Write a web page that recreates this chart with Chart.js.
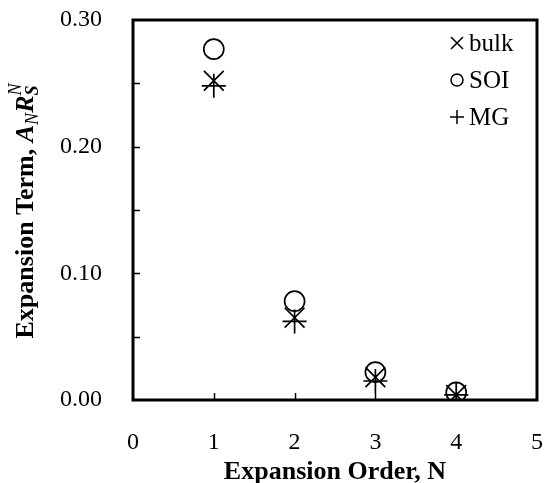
<!DOCTYPE html>
<html>
<head>
<meta charset="utf-8">
<script src="https://cdn.jsdelivr.net/npm/chart.js@4.4.0/dist/chart.umd.min.js"></script>
<style>
    html, body { margin: 0; padding: 0; background: #fff; }
</style>
</head>
<body>
<canvas id="chart" width="544" height="483"></canvas>
<script>
// expansion order N and the term values for each device
const orders = [1, 2, 3, 4];
const bulk = [0.252, 0.065, 0.018, 0.004];
const soi = [0.277, 0.078, 0.022, 0.006];
const mg = [0.248, 0.062, 0.015, 0.004];
const seriesNames = ['bulk', 'SOI', 'MG'];
const xTitle = 'Expansion Order, N';

const FONT = "'Liberation Serif', 'Times New Roman', serif";

function toPoints(vals) {
    return orders.map((n, i) => ({ x: n, y: vals[i] }));
}

// marker drawn by hand for the legend only
function drawMarker(ctx, style, x, y, r) {
    ctx.beginPath();
    if (style === 'circle') {
        ctx.arc(x, y, r, 0, Math.PI * 2);
    } else if (style === 'crossRot') {
        const d = r * Math.SQRT1_2;
        ctx.moveTo(x - d, y - d); ctx.lineTo(x + d, y + d);
        ctx.moveTo(x - d, y + d); ctx.lineTo(x + d, y - d);
    } else {
        ctx.moveTo(x - r, y); ctx.lineTo(x + r, y);
        ctx.moveTo(x, y - r); ctx.lineTo(x, y + r);
    }
    ctx.stroke();
}

// box around the plot + inward tick marks
const framePlugin = {
    id: 'frame',
    beforeDatasetsDraw(chart) {
        const { ctx, chartArea: a, scales } = chart;
        ctx.save();
        ctx.strokeStyle = '#000';
        ctx.lineWidth = 1.5;
        scales.x.ticks.forEach(t => {
            if (t.value <= 0 || t.value >= 5) return;
            const px = Math.round(scales.x.getPixelForValue(t.value)) + 0.5;
            ctx.beginPath(); ctx.moveTo(px, a.bottom); ctx.lineTo(px, a.bottom - 7); ctx.stroke();
        });
        scales.y.ticks.forEach(t => {
            if (t.value <= 0 || t.value >= 0.3 - 1e-9) return;
            const py = Math.round(scales.y.getPixelForValue(t.value)) + 0.5;
            ctx.beginPath(); ctx.moveTo(a.left, py); ctx.lineTo(a.left + 7, py); ctx.stroke();
        });
        ctx.lineWidth = 3;
        ctx.strokeRect(a.left, a.top, a.right - a.left, a.bottom - a.top);
        ctx.restore();
    }
};

// y title has italic symbols with sub/superscripts, so draw it in pieces
const yTitlePlugin = {
    id: 'yTitle',
    afterDraw(chart) {
        const ctx = chart.ctx;
        const pieces = [
            { t: 'Expansion Term, ', f: 'bold 26px ' + FONT, dy: 0 },
            { t: 'A', f: 'italic bold 26px ' + FONT, dy: 0 },
            { t: 'N', f: 'italic 18px ' + FONT, dy: 5 },
            { t: 'R', f: 'italic bold 26px ' + FONT, dy: 0 },
            { t: 'S', f: 'italic bold 18px ' + FONT, dy: 5, stack: true },
            { t: 'N', f: 'italic 18px ' + FONT, dy: -12 }
        ];
        ctx.save();
        let total = 0;
        let widths = pieces.map(p => { ctx.font = p.f; return ctx.measureText(p.t).width; });
        pieces.forEach((p, i) => {
            if (p.stack) total += Math.max(widths[i], widths[i + 1]);
            else if (!(i > 0 && pieces[i - 1].stack)) total += widths[i];
        });
        ctx.translate(33, 211);
        ctx.rotate(-Math.PI / 2);
        ctx.fillStyle = '#000';
        ctx.textBaseline = 'alphabetic';
        let x = -total / 2;
        pieces.forEach((p, i) => {
            ctx.font = p.f;
            ctx.fillText(p.t, x, p.dy);
            if (p.stack) return;
            if (i > 0 && pieces[i - 1].stack) x += Math.max(widths[i], widths[i - 1]);
            else x += widths[i];
        });
        ctx.restore();
    }
};

// legend in the top right corner, inside the plot
const legendPlugin = {
    id: 'cornerLegend',
    afterDraw(chart) {
        const { ctx, chartArea: a } = chart;
        const sizes = { crossRot: 8.5, circle: 6, cross: 7 };
        ctx.save();
        ctx.strokeStyle = '#000';
        ctx.fillStyle = '#000';
        ctx.lineWidth = 1.5;
        ctx.font = '25px ' + FONT;
        ctx.textBaseline = 'middle';
        chart.data.datasets.forEach((ds, i) => {
            const y = a.top + 23 + i * 37;
            const mx = a.right - 80;
            drawMarker(ctx, ds.pointStyle, mx, y, sizes[ds.pointStyle]);
            ctx.fillText(ds.label, mx + 12, y + 1);
        });
        ctx.restore();
    }
};

const commonDs = {
    borderColor: '#000',
    backgroundColor: 'rgba(0,0,0,0)',
    borderWidth: 1.7,
    pointHoverRadius: 0
};

new Chart(document.getElementById('chart'), {
    type: 'scatter',
    data: {
        datasets: [
            { ...commonDs, label: seriesNames[0], data: toPoints(bulk), pointStyle: 'crossRot', pointRadius: 14 },
            { ...commonDs, label: seriesNames[1], data: toPoints(soi), pointStyle: 'circle', pointRadius: 10 },
            { ...commonDs, label: seriesNames[2], data: toPoints(mg), pointStyle: 'cross', pointRadius: 12 }
        ]
    },
    options: {
        responsive: false,
        animation: false,
        layout: { autoPadding: false, padding: { top: 20, right: 7, left: 0, bottom: 0 } },
        plugins: {
            legend: { display: false },
            tooltip: { enabled: false }
        },
        scales: {
            x: {
                type: 'linear',
                min: 0, max: 5,
                ticks: { stepSize: 1, padding: 28, color: '#000', font: { family: FONT, size: 24 } },
                grid: { display: false, drawTicks: false },
                border: { display: false },
                title: {
                    display: true, text: xTitle, color: '#000', padding: 0,
                    font: { family: FONT, size: 26, weight: 'bold', lineHeight: 0.85 }
                },
                // fixed box; tick padding would otherwise push the plot in
                afterFit: s => { s.height = 83; s.paddingLeft = 0; s.paddingRight = 0; }
            },
            y: {
                min: 0, max: 0.3,
                ticks: {
                    stepSize: 0.05, padding: 31, color: '#000',
                    font: { family: FONT, size: 24 },
                    callback: v => (Math.round(v * 100) % 10 === 0 ? v.toFixed(2) : '')
                },
                grid: { display: false, drawTicks: false },
                border: { display: false },
                afterFit: s => { s.width = 133; s.paddingTop = 0; s.paddingBottom = 0; }
            }
        }
    },
    plugins: [framePlugin, yTitlePlugin, legendPlugin]
});
</script>
</body>
</html>
